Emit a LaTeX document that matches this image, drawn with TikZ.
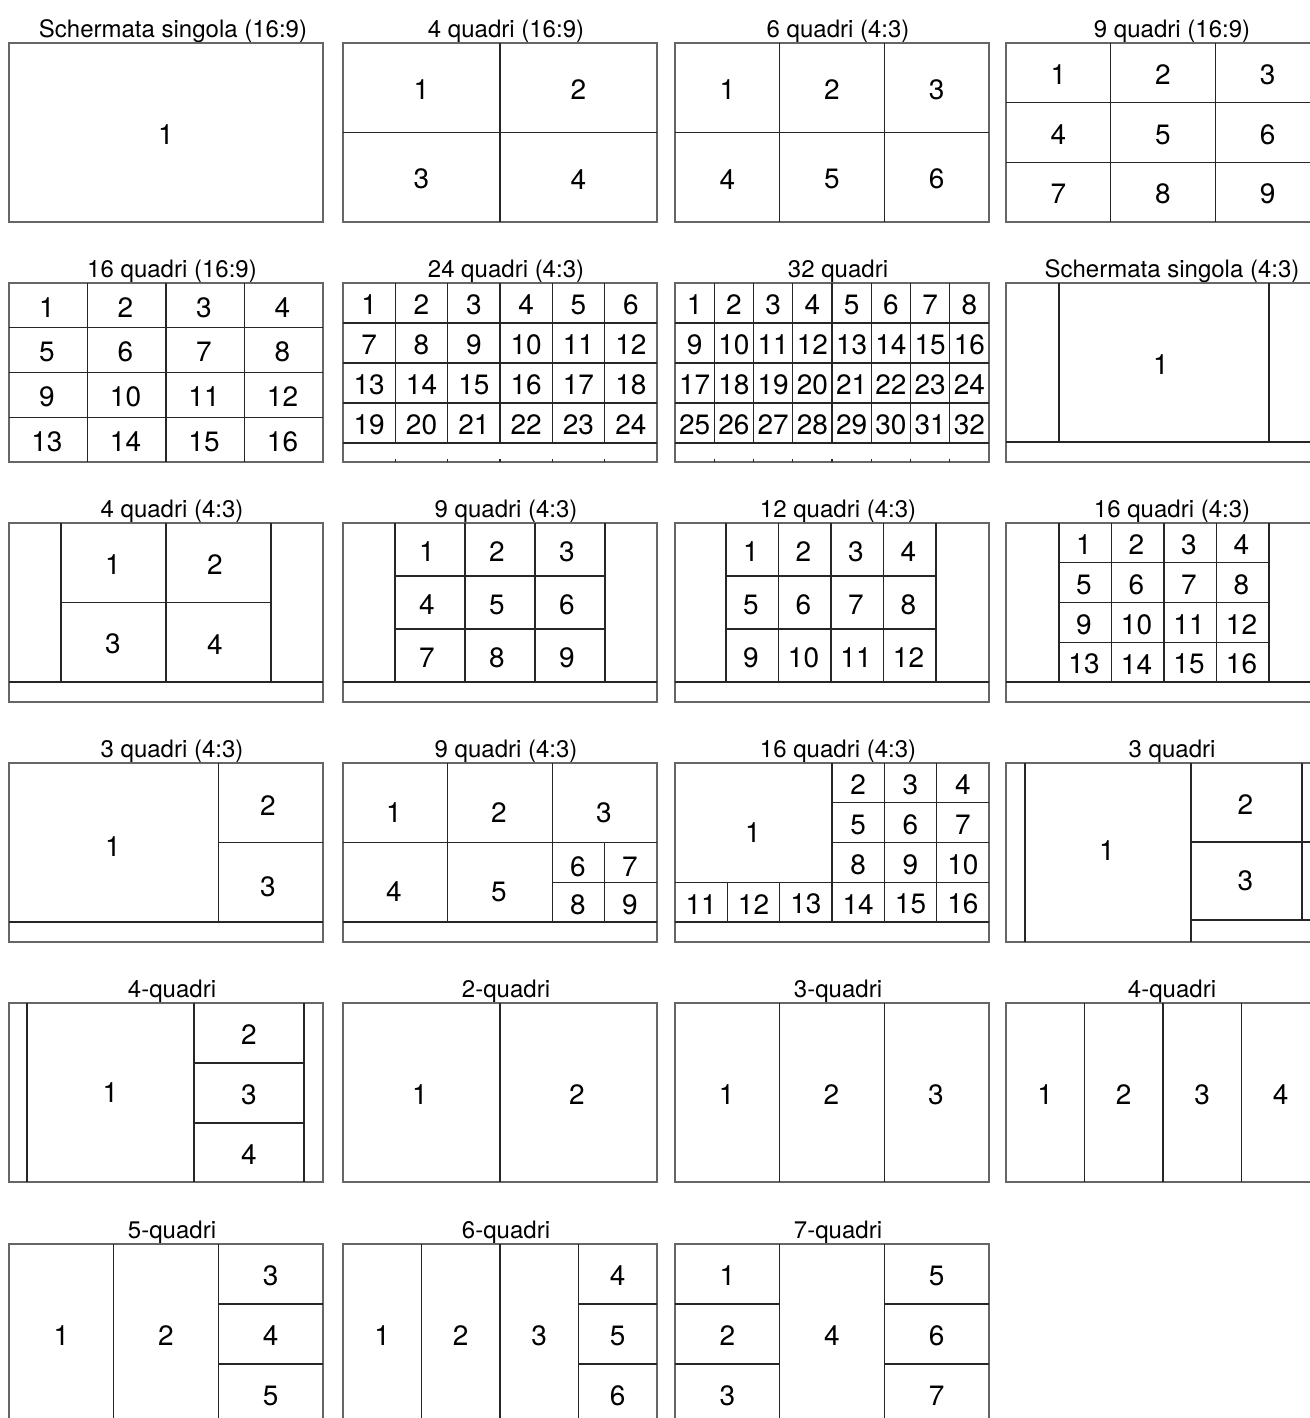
\documentclass[tikz,border=0pt]{standalone}
\usepackage{fontspec}
\setmainfont{TeX Gyre Heros}
\tikzset{
  screen/.style={draw=black!60, line width=0.6pt}, % outer frame of a layout
  split/.style={draw=black!85, line width=0.6pt}, % lines between the panes
  caption/.style={anchor=base, font=\fontsize{12}{12}\selectfont}, % name of
  % the layout, above its frame
  pane/.style={inner sep=0pt, yshift=-1pt, font=\fontsize{14}{14}\selectfont}, % pane number
}

\begin{document}
\begin{tikzpicture}[x=0.5pt, y=-0.5pt]
  \useasboundingbox (0,0) rectangle (1310,1418);
  \clip (0,0) rectangle (1310,1418);

  % ---------- row 1
  \begin{scope}[shift={(9,43)}]
    \node[caption] (t-s169) at (164,-5.5) {Schermata singola (16:9)};
    \draw[screen] (0,0) rectangle (314,179);
    \node[pane] (s169-1) at (157,89.5) {1};
  \end{scope}

  \begin{scope}[shift={(343,43)}]
    \node[caption] (t-q4w) at (163,-5.5) {4 quadri (16:9)};
    \draw[screen] (0,0) rectangle (314,179);
    \draw[split] (157,0) -- (157,179) (0,89.5) -- (314,89.5);
    \foreach \r in {0,1} \foreach \c in {0,1} {
      \pgfmathtruncatemacro\k{2*\r+\c+1}
      \node[pane] (q4w-\k) at ({157*\c+78.5},{89.5*\r+44.75}) {\k};
    }
  \end{scope}

  \begin{scope}[shift={(675,43)}]
    \node[caption] (t-q6) at (163,-5.5) {6 quadri (4:3)};
    \draw[screen] (0,0) rectangle (314,179);
    \draw[split] (104.67,0) -- (104.67,179) (209.33,0) -- (209.33,179)
      (0,89.5) -- (314,89.5);
    \foreach \r in {0,1} \foreach \c in {0,1,2} {
      \pgfmathtruncatemacro\k{3*\r+\c+1}
      \node[pane] (q6-\k) at ({104.67*\c+52.33},{89.5*\r+44.75}) {\k};
    }
  \end{scope}

  \begin{scope}[shift={(1006,43)}]
    \node[caption] (t-q9w) at (166,-5.5) {9 quadri (16:9)};
    \draw[screen] (0,0) rectangle (314,179);
    \draw[split] (104.67,0) -- (104.67,179) (209.33,0) -- (209.33,179)
      (0,59.67) -- (314,59.67) (0,119.33) -- (314,119.33);
    \foreach \r in {0,1,2} \foreach \c in {0,1,2} {
      \pgfmathtruncatemacro\k{3*\r+\c+1}
      \node[pane] (q9w-\k) at ({104.67*\c+52.33},{59.67*\r+29.83}) {\k};
    }
  \end{scope}

  % ---------- row 2
  \begin{scope}[shift={(9,283)}]
    \node[caption] (t-q16w) at (163,-5.5) {16 quadri (16:9)};
    \draw[screen] (0,0) rectangle (314,179);
    \foreach \i in {1,2,3} \draw[split] ({78.5*\i},0) -- ({78.5*\i},179)
      (0,{44.75*\i}) -- (314,{44.75*\i});
    \foreach \r in {0,...,3} \foreach \c in {0,...,3} {
      \pgfmathtruncatemacro\k{4*\r+\c+1}
      \node[pane] (q16w-\k) at ({78.5*\c+38},{44.75*\r+22.4}) {\k};
    }
  \end{scope}

  \begin{scope}[shift={(343,283)}]
    \node[caption] (t-q24) at (163,-5.5) {24 quadri (4:3)};
    \draw[screen] (0,0) rectangle (314,179);
    \foreach \r in {1,...,4} \draw[split] (0,{40*\r}) -- (314,{40*\r});
    \foreach \c in {1,...,5} \draw[split] ({52.33*\c},0) -- ({52.33*\c},160)
      ({52.33*\c},176) -- ({52.33*\c},179);
    \foreach \r in {0,...,3} \foreach \c in {0,...,5} {
      \pgfmathtruncatemacro\k{6*\r+\c+1}
      \node[pane] (q24-\k) at ({52.33*\c+26.17},{40*\r+20}) {\k};
    }
  \end{scope}

  \begin{scope}[shift={(675,283)}]
    \node[caption] (t-q32) at (163,-5.5) {32 quadri};
    \draw[screen] (0,0) rectangle (314,179);
    \foreach \r in {1,...,4} \draw[split] (0,{40*\r}) -- (314,{40*\r});
    \foreach \c in {1,...,7} \draw[split] ({39.25*\c},0) -- ({39.25*\c},160)
      ({39.25*\c},176) -- ({39.25*\c},179);
    \foreach \r in {0,...,3} \foreach \c in {0,...,7} {
      \pgfmathtruncatemacro\k{8*\r+\c+1}
      \node[pane] (q32-\k) at ({39.25*\c+19.6},{40*\r+20}) {\k};
    }
  \end{scope}

  \begin{scope}[shift={(1006,283)}]
    \node[caption] (t-s43) at (166,-5.5) {Schermata singola (4:3)};
    \draw[screen] (0,0) rectangle (314,179);
    \draw[split] (53,0) -- (53,159) (263,0) -- (263,159) (0,159) -- (314,159);
    \node[pane] (s43-1) at (155,79.5) {1};
  \end{scope}

  % ---------- row 3
  \begin{scope}[shift={(9,523)}]
    \node[caption] (t-q4) at (163,-5.5) {4 quadri (4:3)};
    \draw[screen] (0,0) rectangle (314,179);
    \draw[split] (0,159) -- (314,159) (52,79.5) -- (262,79.5);
    \foreach \c in {0,1,2} \draw[split] ({52+105*\c},0) -- ({52+105*\c},159);
    \foreach \r in {0,1} \foreach \c in {0,1} {
      \pgfmathtruncatemacro\k{2*\r+\c+1}
      \node[pane] (q4-\k) at ({102*\c+104},{79.5*\r+39.75}) {\k};
    }
  \end{scope}

  \begin{scope}[shift={(343,523)}]
    \node[caption] (t-q9) at (163,-5.5) {9 quadri (4:3)};
    \draw[screen] (0,0) rectangle (314,179);
    \draw[split] (0,159) -- (314,159);
    \foreach \i in {0,...,3} \draw[split] ({52+70*\i},0) -- ({52+70*\i},159);
    \foreach \i in {1,2} \draw[split] (52,{53*\i}) -- (262,{53*\i});
    \foreach \r in {0,1,2} \foreach \c in {0,1,2} {
      \pgfmathtruncatemacro\k{3*\r+\c+1}
      \node[pane] (q9-\k) at ({70*\c+84},{53*\r+26.5}) {\k};
    }
  \end{scope}

  \begin{scope}[shift={(675,523)}]
    \node[caption] (t-q12) at (163,-5.5) {12 quadri (4:3)};
    \draw[screen] (0,0) rectangle (314,179);
    \draw[split] (0,159) -- (314,159);
    \foreach \i in {0,...,4} \draw[split] ({51+52.5*\i},0) -- ({51+52.5*\i},159);
    \foreach \i in {1,2} \draw[split] (51,{53*\i}) -- (261,{53*\i});
    \foreach \r in {0,1,2} \foreach \c in {0,...,3} {
      \pgfmathtruncatemacro\k{4*\r+\c+1}
      \node[pane] (q12-\k) at ({52.5*\c+76},{53*\r+26.5}) {\k};
    }
  \end{scope}

  \begin{scope}[shift={(1006,523)}]
    \node[caption] (t-q16) at (166,-5.5) {16 quadri (4:3)};
    \draw[screen] (0,0) rectangle (314,179);
    \draw[split] (0,159) -- (314,159);
    \foreach \i in {0,...,4} \draw[split] ({53+52.5*\i},0) -- ({53+52.5*\i},159);
    \foreach \i in {1,2,3} \draw[split] (53,{39.75*\i}) -- (263,{39.75*\i});
    \foreach \r in {0,...,3} \foreach \c in {0,...,3} {
      \pgfmathtruncatemacro\k{4*\r+\c+1}
      \node[pane] (q16-\k) at ({52.5*\c+78},{39.75*\r+19.9}) {\k};
    }
  \end{scope}

  % ---------- row 4
  \begin{scope}[shift={(9,763)}]
    \node[caption] (t-q3) at (163,-5.5) {3 quadri (4:3)};
    \draw[screen] (0,0) rectangle (314,179);
    \draw[split] (0,159) -- (314,159) (209.33,0) -- (209.33,159)
      (209.33,79.5) -- (314,79.5);
    \node[pane] (q3-1) at (104,82) {1};
    \node[pane] (q3-2) at (259,41) {2};
    \node[pane] (q3-3) at (259,122) {3};
  \end{scope}

  \begin{scope}[shift={(343,763)}]
    \node[caption] (t-q9b) at (163,-5.5) {9 quadri (4:3)};
    \draw[screen] (0,0) rectangle (314,179);
    \draw[split] (0,159) -- (314,159) (0,79.5) -- (314,79.5)
      (104.67,0) -- (104.67,159) (209.33,0) -- (209.33,159)
      (261.67,79.5) -- (261.67,159) (209.33,119.25) -- (314,119.25);
    \foreach \k/\x/\y in {1/51/48,2/156/48,3/261/48,4/51/127,5/156/127,
      6/235/102,7/287/102,8/235/140,9/287/140}
      \node[pane] (q9b-\k) at (\x,\y) {\k};
  \end{scope}

  \begin{scope}[shift={(675,763)}]
    \node[caption] (t-q16b) at (163,-5.5) {16 quadri (4:3)};
    \draw[screen] (0,0) rectangle (314,179);
    \draw[split] (0,159) -- (314,159) (0,119.25) -- (314,119.25)
      (156.67,39.75) -- (314,39.75) (156.67,79.5) -- (314,79.5);
    \foreach \c in {1,2} \draw[split] ({52.33*\c},119.25) -- ({52.33*\c},159);
    \foreach \c in {3,4,5} \draw[split] ({52.33*\c},0) -- ({52.33*\c},159);
    \node[pane] (q16b-1) at (78,68) {1};
    \foreach \k/\c/\r in {2/3/0,3/4/0,4/5/0,5/3/1,6/4/1,7/5/1,8/3/2,9/4/2,
      10/5/2,11/0/3,12/1/3,13/2/3,14/3/3,15/4/3,16/5/3}
      \node[pane] (q16b-\k) at ({52.33*\c+26.17},{39.75*\r+19.9}) {\k};
  \end{scope}

  \begin{scope}[shift={(1006,763)}]
    \node[caption] (t-q3b) at (166,-5.5) {3 quadri};
    \draw[screen] (0,0) rectangle (314,179);
    \draw[split] (19,0) -- (19,179) (185,0) -- (185,179) (296,0) -- (296,157)
      (185,79) -- (314,79) (185,157) -- (314,157);
    \node[pane] (q3b-1) at (101,86) {1};
    \node[pane] (q3b-2) at (239.5,39.5) {2};
    \node[pane] (q3b-3) at (239.5,116) {3};
  \end{scope}

  % ---------- row 5
  \begin{scope}[shift={(9,1003)}]
    \node[caption] (t-p4) at (163,-5.5) {4-quadri};
    \draw[screen] (0,0) rectangle (314,179);
    \draw[split] (18,0) -- (18,179) (185,0) -- (185,179) (295,0) -- (295,179)
      (185,60) -- (295,60) (185,120) -- (295,120);
    \node[pane] (p4-1) at (101.5,87.5) {1};
    \foreach \k/\y in {2/30,3/90,4/149.5} \node[pane] (p4-\k) at (240,\y) {\k};
  \end{scope}

  \begin{scope}[shift={(343,1003)}]
    \node[caption] (t-p2) at (163,-5.5) {2-quadri};
    \draw[screen] (0,0) rectangle (314,179);
    \draw[split] (157,0) -- (157,179);
    \foreach \k in {1,2} \node[pane] (p2-\k) at ({157*\k-80},89.5) {\k};
  \end{scope}

  \begin{scope}[shift={(675,1003)}]
    \node[caption] (t-p3) at (163,-5.5) {3-quadri};
    \draw[screen] (0,0) rectangle (314,179);
    \draw[split] (104.67,0) -- (104.67,179) (209.33,0) -- (209.33,179);
    \foreach \k in {1,2,3} \node[pane] (p3-\k) at ({104.67*\k-53},89.5) {\k};
  \end{scope}

  \begin{scope}[shift={(1006,1003)}]
    \node[caption] (t-p4b) at (166,-5.5) {4-quadri};
    \draw[screen] (0,0) rectangle (314,179);
    \foreach \c in {1,2,3} \draw[split] ({78.5*\c},0) -- ({78.5*\c},179);
    \foreach \k in {1,...,4} \node[pane] (p4b-\k) at ({78.5*\k-39.25},89.5) {\k};
  \end{scope}

  % ---------- row 6
  \begin{scope}[shift={(9,1244)}]
    \node[caption] (t-p5) at (163,-5.5) {5-quadri};
    \draw[screen] (0,0) rectangle (314,179);
    \draw[split] (104.67,0) -- (104.67,179) (209.33,0) -- (209.33,179)
      (209.33,60) -- (314,60) (209.33,120) -- (314,120);
    \node[pane] (p5-1) at (52.33,89.5) {1};
    \node[pane] (p5-2) at (157,89.5) {2};
    \foreach \k/\y in {3/30,4/90,5/150} \node[pane] (p5-\k) at (261.67,\y) {\k};
  \end{scope}

  \begin{scope}[shift={(343,1244)}]
    \node[caption] (t-p6) at (163,-5.5) {6-quadri};
    \draw[screen] (0,0) rectangle (314,179);
    \foreach \c in {1,2,3} \draw[split] ({78.5*\c},0) -- ({78.5*\c},179);
    \draw[split] (235.5,60) -- (314,60) (235.5,120) -- (314,120);
    \foreach \k in {1,2,3} \node[pane] (p6-\k) at ({78.5*\k-39.25},89.5) {\k};
    \foreach \k/\y in {4/30,5/90,6/150} \node[pane] (p6-\k) at (274.75,\y) {\k};
  \end{scope}

  \begin{scope}[shift={(675,1244)}]
    \node[caption] (t-p7) at (163,-5.5) {7-quadri};
    \draw[screen] (0,0) rectangle (314,179);
    \draw[split] (104.67,0) -- (104.67,179) (209.33,0) -- (209.33,179)
      (0,60) -- (104.67,60) (0,120) -- (104.67,120)
      (209.33,60) -- (314,60) (209.33,120) -- (314,120);
    \foreach \k/\y in {1/30,2/90,3/150} \node[pane] (p7-\k) at (52.33,\y) {\k};
    \node[pane] (p7-4) at (157,89.5) {4};
    \foreach \k/\y in {5/30,6/90,7/150} \node[pane] (p7-\k) at (261.67,\y) {\k};
  \end{scope}
\end{tikzpicture}
\end{document}
